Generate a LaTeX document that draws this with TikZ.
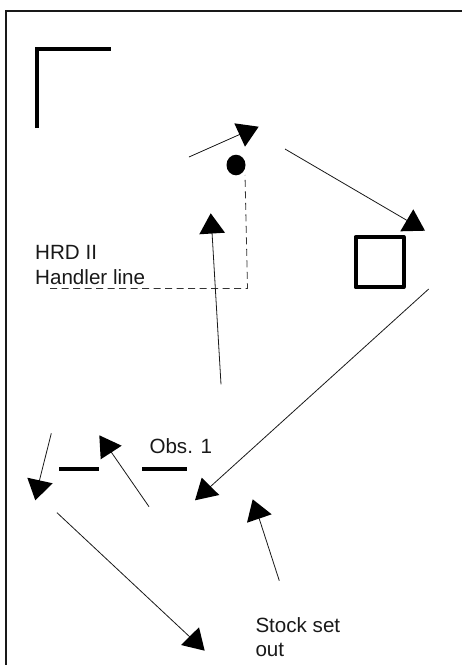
\documentclass[tikz,border=0pt]{standalone}
\usepackage{fontspec}
\setmainfont{Liberation Sans}
\tikzset{
  framing/.style={line width=2.1pt,draw=black!90},
  wall/.style={line width=4pt,draw=black},
  shaft/.style={line width=0.8pt,draw=black!90},
  head/.style={fill=black},
  handler/.style={line width=0.8pt,draw=black!80,dash pattern=on 7pt off 4.5pt},
  label/.style={anchor=base west,inner sep=0pt,font=\fontsize{20.6pt}{24pt}\selectfont,text=black!90}
}
\begin{document}
\begin{tikzpicture}[x=1pt,y=-1pt]
\useasboundingbox (0,0) rectangle (462,665);
% frame
\draw[framing] (6,665) -- (6,11) -- (462,11);
% corner, obstacles, square
\draw[wall,line cap=butt,line join=miter] (37,128) -- (37,49) -- (111,49);
\draw[wall] (59,468.7) -- (99,468.7);
\draw[wall] (142.3,468.7) -- (187,468.7);
\draw[wall,line join=round] (355.5,237) rectangle (403.5,287.3);
% handler
\draw[fill=black,draw=none] (236,165) ellipse [x radius=9.5,y radius=10.3];
\coordinate (h0) at (50,288.4);
\coordinate (h1) at (247.5,288.4);
\coordinate (h2) at (245,175);
\draw[handler] (h0) -- (h1) -- (h2);
% arrows
\coordinate (a1s) at (189,157); \coordinate (a1e) at (243,133);
\draw[shaft] (a1s) -- (a1e);
\fill[head] (258.7,126.7) -- (234.3,123.3) -- (245,146.7) -- cycle;
\coordinate (a2s) at (285,149); \coordinate (a2e) at (408,221);
\draw[shaft] (a2s) -- (a2e);
\fill[head] (413.3,209.3) -- (425,230.7) -- (400.3,231.3) -- cycle;
\coordinate (a3s) at (221,384.3); \coordinate (a3e) at (212,232);
\draw[shaft] (a3s) -- (a3e);
\fill[head] (210.7,213.3) -- (199.3,234.3) -- (225,232.7) -- cycle;
\coordinate (a4s) at (428.7,289); \coordinate (a4e) at (210,487);
\draw[shaft] (a4s) -- (a4e);
\fill[head] (195,500.3) -- (201.7,477.7) -- (219.3,495) -- cycle;
\coordinate (a5s) at (51.3,433.3); \coordinate (a5e) at (39.3,481);
\draw[shaft] (a5s) -- (a5e);
\fill[head] (27.3,477.7) -- (52.7,483.3) -- (35.3,500.3) -- cycle;
\coordinate (a6s) at (149,506.7); \coordinate (a6e) at (110.5,451);
\draw[shaft] (a6s) -- (a6e);
\fill[head] (99.3,435.3) -- (121.7,445.7) -- (100.7,459.3) -- cycle;
\coordinate (a7s) at (57,512.7); \coordinate (a7e) at (191,638);
\draw[shaft] (a7s) -- (a7e);
\fill[head] (199,627.3) -- (204.7,650.7) -- (181,645) -- cycle;
\coordinate (a8s) at (279.3,580.7); \coordinate (a8e) at (259,518);
\draw[shaft] (a8s) -- (a8e);
\fill[head] (252.7,499.3) -- (271.7,514.3) -- (247,522.7) -- cycle;
% labels
\node[label] (hrd) at (35,259) {HRD II};
\node[label] (hl) at (35,284) {Handler line};
\node[label] (obs) at (149.3,453.3) {Obs. 1};
\node[label] (st) at (255.3,632.7) {Stock set};
\node[label] (ou) at (255.3,656.5) {out};
\end{tikzpicture}
\end{document}
